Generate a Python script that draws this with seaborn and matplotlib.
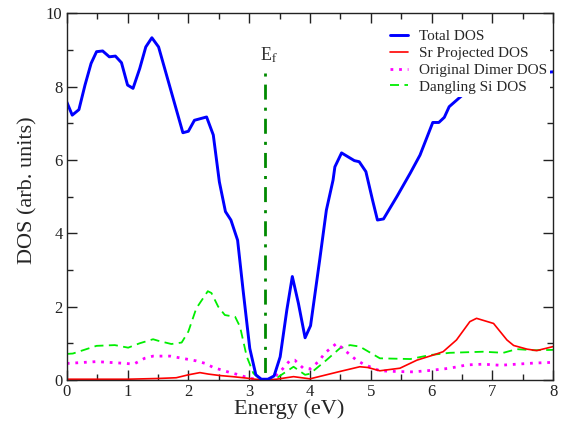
import numpy as np
import pandas as pd
import matplotlib
matplotlib.use("Agg")
import matplotlib.pyplot as plt
import seaborn as sns
from matplotlib.ticker import MultipleLocator

# ---- data ----
total_x = [0.0, 0.09, 0.2, 0.3, 0.4, 0.49, 0.59, 0.7, 0.8, 0.9, 1.0, 1.09, 1.2, 1.3, 1.4, 1.51,
           1.91, 2.0, 2.1, 2.3, 2.41, 2.51, 2.61, 2.7, 2.81, 2.9, 3.01, 3.11, 3.2, 3.31, 3.41,
           3.51, 3.62, 3.71, 3.81, 3.92, 4.01, 4.16, 4.27, 4.38, 4.41, 4.52, 4.73, 4.81, 4.92,
           5.03, 5.11, 5.21, 5.43, 5.65, 5.81, 6.02, 6.12, 6.21, 6.29, 6.6, 7.0, 7.5, 8.0]
total_y = [7.58, 7.22, 7.37, 8.04, 8.63, 8.95, 8.97, 8.81, 8.83, 8.65, 8.04, 7.95, 8.49, 9.08, 9.33, 9.08,
           6.74, 6.78, 7.08, 7.17, 6.68, 5.40, 4.59, 4.36, 3.81, 2.45, 0.86, 0.14, 0.02, 0.02, 0.11,
           0.63, 1.91, 2.82, 2.09, 1.15, 1.48, 3.27, 4.63, 5.45, 5.81, 6.19, 5.98, 5.95, 5.68,
           4.90, 4.36, 4.39, 5.00, 5.64, 6.13, 7.02, 7.02, 7.16, 7.45, 7.9, 8.2, 8.35, 8.4]

sr_x = [0.0, 0.5, 1.0, 1.5, 1.8, 2.0, 2.19, 2.33, 2.52, 2.73, 2.96, 3.1, 3.25, 3.45, 3.73, 4.0,
        4.49, 4.82, 4.95, 5.15, 5.48, 5.76, 6.03, 6.19, 6.41, 6.63, 6.74, 7.02, 7.24, 7.35,
        7.57, 7.73, 8.0]
sr_y = [0.02, 0.02, 0.02, 0.04, 0.06, 0.14, 0.20, 0.16, 0.12, 0.09, 0.05, 0.02, 0.0, 0.02, 0.09, 0.03,
        0.23, 0.36, 0.34, 0.25, 0.32, 0.54, 0.68, 0.77, 1.09, 1.59, 1.68, 1.54, 1.09, 0.94,
        0.84, 0.80, 0.91]

dimer_x = [0.0, 0.49, 0.98, 1.1, 1.28, 1.42, 1.7, 2.0, 2.13, 2.28, 2.41, 2.55, 2.69, 2.83, 2.96,
           3.1, 3.25, 3.4, 3.55, 3.67, 3.75, 3.89, 4.0, 4.14, 4.25, 4.44, 4.6, 4.75, 4.88, 5.15,
           5.43, 5.7, 5.98, 6.3, 6.58, 6.85, 7.13, 7.4, 7.68, 8.0]
dimer_y = [0.45, 0.50, 0.45, 0.43, 0.59, 0.65, 0.65, 0.56, 0.52, 0.45, 0.34, 0.27, 0.20, 0.14, 0.07,
           0.02, 0.0, 0.05, 0.3, 0.53, 0.54, 0.32, 0.30, 0.50, 0.74, 1.00, 0.77, 0.56, 0.43, 0.25,
           0.23, 0.22, 0.26, 0.32, 0.41, 0.43, 0.40, 0.43, 0.46, 0.48]

dang_x = [0.0, 0.1, 0.49, 0.79, 1.01, 1.2, 1.42, 1.5, 1.72, 1.89, 2.0, 2.13, 2.32, 2.38, 2.49, 2.6,
          2.77, 2.85, 2.96, 3.07, 3.18, 3.3, 3.45, 3.73, 3.92, 4.0, 4.27, 4.49, 4.66, 4.82, 5.15,
          5.65, 5.98, 6.3, 6.85, 7.18, 7.4, 7.68, 8.0]
dang_y = [0.71, 0.72, 0.93, 0.95, 0.88, 1.00, 1.11, 1.07, 0.98, 1.02, 1.32, 1.95, 2.42, 2.37, 2.00, 1.77,
          1.72, 1.45, 0.64, 0.18, 0.02, 0.0, 0.05, 0.36, 0.14, 0.17, 0.54, 0.86, 0.95, 0.91, 0.59,
          0.57, 0.68, 0.74, 0.77, 0.74, 0.84, 0.81, 0.82]

fermi_x = [3.26, 3.26]
fermi_y = [8.37, 0.0]

labels = ["Total DOS", "Sr Projected DOS", "Original Dimer DOS", "Dangling Si DOS"]

# ---- plot ----
sns.set_style("ticks")
plt.rcParams['font.family'] = ['Liberation Serif', 'DejaVu Serif']
plt.rcParams['mathtext.fontset'] = 'stix'

fig = plt.figure(figsize=(5.61, 4.25), dpi=100)
ax = fig.add_axes([0.119, 0.106, 0.867, 0.863])

df_t = pd.DataFrame({"x": total_x, "y": total_y})
df_s = pd.DataFrame({"x": sr_x, "y": sr_y})
df_d = pd.DataFrame({"x": dimer_x, "y": dimer_y})
df_g = pd.DataFrame({"x": dang_x, "y": dang_y})
df_f = pd.DataFrame({"x": fermi_x, "y": fermi_y})

sns.lineplot(data=df_f, x="x", y="y", ax=ax, color="#008a00", lw=2.0,
             linestyle=(0, (1.1, 2.9, 5.4, 2.9)), sort=False, estimator=None)
sns.lineplot(data=df_g, x="x", y="y", ax=ax, color="#00ee00", lw=1.3,
             linestyle=(0, (5, 3)), label=labels[3], sort=False, estimator=None)
sns.lineplot(data=df_d, x="x", y="y", ax=ax, color="#ff00ff", lw=2.0,
             linestyle=(0, (1.0, 2.1)), label=labels[2], sort=False, estimator=None)
sns.lineplot(data=df_s, x="x", y="y", ax=ax, color="#ff0000", lw=1.2,
             label=labels[1], sort=False, estimator=None)
sns.lineplot(data=df_t, x="x", y="y", ax=ax, color="#0000ff", lw=2.1,
             label=labels[0], sort=False, estimator=None)

ax.set_xlim(0, 8)
ax.set_ylim(0, 10)
ax.xaxis.set_major_locator(MultipleLocator(1))
ax.xaxis.set_minor_locator(MultipleLocator(0.5))
ax.yaxis.set_major_locator(MultipleLocator(2))
ax.yaxis.set_minor_locator(MultipleLocator(1))
ax.tick_params(which="both", direction="in", top=True, right=True, labelsize=12,
               colors="#222222", pad=3)
ax.tick_params(which="major", length=7, width=1)
ax.tick_params(which="minor", length=4, width=1)
for s in ax.spines.values():
    s.set_linewidth(1.0)
    s.set_color("#222222")

ax.set_xlabel("Energy (eV)", fontsize=16)
ax.set_ylabel("DOS (arb. units)", fontsize=16)
ax.xaxis.set_label_coords(0.457, -0.052)
ax.yaxis.set_label_coords(-0.06, 0.518)

ax.text(3.18, 8.6, r"E$_\mathrm{f}$", fontsize=13, color="#333333", ha="left", va="bottom")

handles, labs = ax.get_legend_handles_labels()
order = [labs.index(l) for l in labels]
leg = ax.legend([handles[i] for i in order], [labs[i] for i in order],
                loc="upper left", bbox_to_anchor=(0.658, 0.963), fontsize=11,
                frameon=True, fancybox=False, framealpha=1.0, edgecolor="none",
                handlelength=1.2, handletextpad=0.7, labelspacing=0.2,
                borderpad=0.2, borderaxespad=0.0)

fig.savefig("out.png", dpi=100)
